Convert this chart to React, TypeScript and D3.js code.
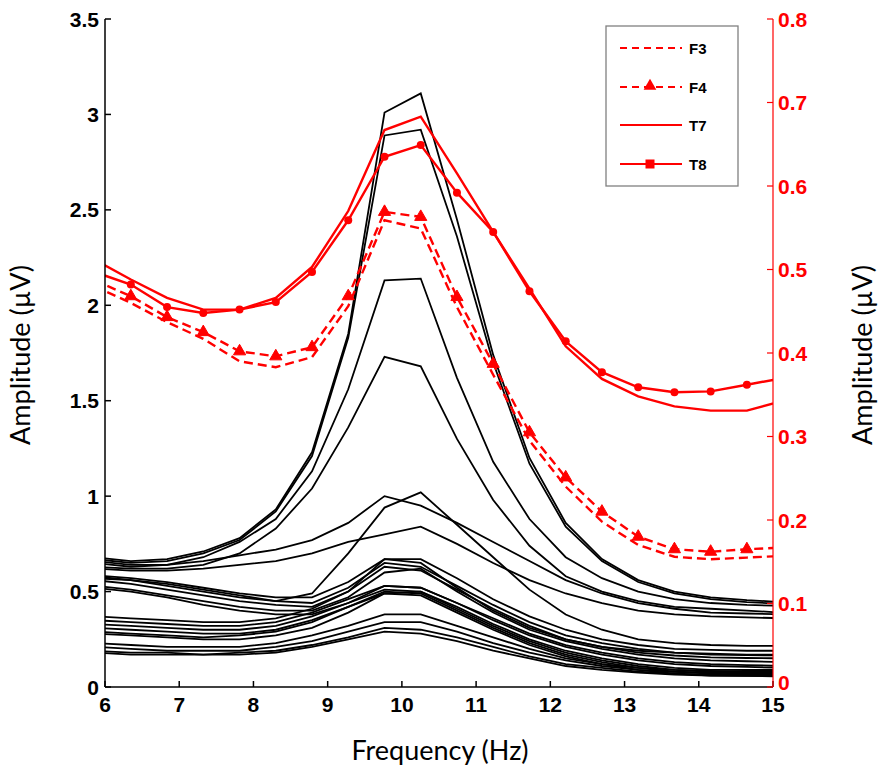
import React from "react";
import * as d3 from "d3";

const freqs = [5.859, 6.348, 6.836, 7.324, 7.813, 8.301, 8.789, 9.277, 9.766, 10.254, 10.742, 11.230, 11.719, 12.207, 12.695, 13.184, 13.672, 14.160, 14.648, 15.137];

// black channels (left axis, µV)
const blackSeries: number[][] = [
  [0.68,0.66,0.67,0.71,0.78,0.93,1.23,1.85,3.01,3.11,2.45,1.74,1.20,0.86,0.67,0.56,0.50,0.47,0.455,0.445],
  [0.67,0.65,0.66,0.70,0.77,0.92,1.21,1.83,2.89,2.92,2.36,1.70,1.17,0.84,0.66,0.55,0.49,0.46,0.445,0.435],
  [0.65,0.63,0.64,0.68,0.76,0.88,1.13,1.56,2.13,2.14,1.62,1.18,0.88,0.68,0.57,0.50,0.46,0.44,0.43,0.425],
  [0.63,0.62,0.62,0.64,0.70,0.83,1.04,1.36,1.73,1.68,1.30,0.98,0.74,0.58,0.50,0.45,0.42,0.41,0.40,0.39],
  [0.66,0.64,0.64,0.66,0.69,0.72,0.77,0.86,1.00,0.95,0.86,0.76,0.66,0.56,0.49,0.44,0.41,0.39,0.385,0.38],
  [0.62,0.61,0.61,0.62,0.64,0.66,0.70,0.76,0.80,0.84,0.75,0.65,0.56,0.49,0.44,0.40,0.38,0.37,0.365,0.36],
  [0.58,0.56,0.53,0.50,0.47,0.45,0.49,0.70,0.94,1.02,0.85,0.68,0.51,0.38,0.30,0.25,0.23,0.22,0.215,0.215],
  [0.585,0.57,0.55,0.52,0.49,0.47,0.47,0.55,0.67,0.67,0.57,0.46,0.37,0.30,0.25,0.22,0.20,0.195,0.19,0.19],
  [0.57,0.56,0.54,0.51,0.48,0.45,0.44,0.52,0.65,0.63,0.53,0.43,0.34,0.27,0.23,0.20,0.18,0.17,0.167,0.165],
  [0.56,0.54,0.51,0.48,0.45,0.43,0.42,0.50,0.63,0.61,0.51,0.41,0.32,0.25,0.21,0.18,0.165,0.155,0.152,0.15],
  [0.53,0.51,0.48,0.45,0.42,0.40,0.40,0.47,0.60,0.62,0.50,0.39,0.30,0.24,0.20,0.17,0.15,0.14,0.135,0.13],
  [0.52,0.50,0.47,0.43,0.40,0.38,0.38,0.44,0.53,0.52,0.44,0.36,0.28,0.22,0.18,0.15,0.13,0.12,0.115,0.11],
  [0.37,0.36,0.35,0.34,0.34,0.36,0.41,0.50,0.67,0.65,0.52,0.40,0.31,0.25,0.21,0.19,0.18,0.175,0.17,0.17],
  [0.35,0.34,0.33,0.32,0.32,0.34,0.39,0.46,0.53,0.52,0.44,0.35,0.27,0.21,0.17,0.14,0.12,0.11,0.105,0.10],
  [0.33,0.32,0.31,0.30,0.30,0.32,0.37,0.44,0.51,0.50,0.42,0.33,0.25,0.19,0.15,0.12,0.10,0.09,0.089,0.089],
  [0.31,0.30,0.29,0.28,0.28,0.30,0.35,0.42,0.49,0.50,0.41,0.32,0.24,0.18,0.14,0.11,0.09,0.08,0.075,0.073],
  [0.29,0.28,0.27,0.26,0.27,0.29,0.34,0.42,0.50,0.49,0.40,0.31,0.23,0.17,0.13,0.10,0.08,0.07,0.065,0.063],
  [0.28,0.27,0.26,0.25,0.25,0.27,0.31,0.39,0.49,0.48,0.39,0.30,0.22,0.16,0.12,0.09,0.07,0.06,0.058,0.058],
  [0.23,0.22,0.21,0.21,0.21,0.23,0.27,0.32,0.38,0.38,0.32,0.26,0.20,0.15,0.12,0.10,0.09,0.085,0.08,0.08],
  [0.21,0.20,0.19,0.19,0.19,0.21,0.24,0.29,0.34,0.34,0.29,0.23,0.18,0.14,0.11,0.09,0.08,0.075,0.07,0.07],
  [0.19,0.18,0.18,0.17,0.18,0.19,0.22,0.26,0.31,0.30,0.26,0.21,0.16,0.12,0.10,0.08,0.07,0.065,0.062,0.06],
  [0.18,0.17,0.17,0.17,0.17,0.18,0.21,0.25,0.29,0.28,0.24,0.19,0.15,0.11,0.09,0.075,0.065,0.06,0.058,0.055],
];

// red channels (right axis, µV)
const F3 = [0.480,0.460,0.437,0.417,0.390,0.383,0.395,0.456,0.559,0.549,0.455,0.374,0.295,0.240,0.198,0.170,0.156,0.153,0.155,0.157];
const F4 = [0.487,0.468,0.443,0.425,0.402,0.396,0.407,0.468,0.569,0.563,0.467,0.387,0.305,0.251,0.210,0.180,0.165,0.162,0.165,0.167];
const T7 = [0.512,0.488,0.466,0.452,0.452,0.466,0.503,0.570,0.667,0.683,0.615,0.545,0.477,0.408,0.369,0.348,0.336,0.331,0.331,0.343];
const T8 = [0.497,0.482,0.455,0.448,0.452,0.461,0.497,0.559,0.635,0.649,0.592,0.545,0.474,0.414,0.377,0.359,0.353,0.354,0.362,0.370];

const xTicks = [6, 7, 8, 9, 10, 11, 12, 13, 14, 15];
const yLeftTicks = [0, 0.5, 1, 1.5, 2, 2.5, 3, 3.5];
const yRightTicks = [0, 0.1, 0.2, 0.3, 0.4, 0.5, 0.6, 0.7, 0.8];
const legendNames = ["F3", "F4", "T7", "T8"];

const W = 892, H = 784;
const L = 105, R = 773, T = 19, B = 687;
const RED = "#ff0000";

export default function App() {
  const x = d3.scaleLinear().domain([6, 15]).range([L, R]);
  const yL = d3.scaleLinear().domain([0, 3.5]).range([B, T]);
  const yR = d3.scaleLinear().domain([0, 0.8]).range([B, T]);

  const lineL = d3.line<number>().x((_, i) => x(freqs[i])).y((d) => yL(d));
  const lineR = d3.line<number>().x((_, i) => x(freqs[i])).y((d) => yR(d));
  const tri = d3.symbol().type(d3.symbolTriangle).size(64)() as string;
  const triLeg = d3.symbol().type(d3.symbolTriangle).size(70)() as string;

  const tickFont = { fontFamily: "'Liberation Sans', Arial, sans-serif", fontWeight: 700 as const, fontSize: 21 };
  const titleFont = { fontFamily: "Lato, 'Open Sans', sans-serif", fontSize: 27 };

  const legY = [48, 87, 125, 164];

  return (
    <svg width={W} height={H} style={{ position: "absolute", left: 0, top: 0, background: "#fff" }}>
      <defs>
        <clipPath id="plotclip">
          <rect x={L} y={0} width={R - L} height={B} />
        </clipPath>
      </defs>
      <rect x={0} y={0} width={W} height={H} fill="#fff" />

      <g clipPath="url(#plotclip)">
        {blackSeries.map((s, i) => (
          <path key={i} d={lineL(s) || ""} fill="none" stroke="#000" strokeWidth={1.8} strokeLinejoin="miter" />
        ))}
        <path d={lineR(F3) || ""} fill="none" stroke={RED} strokeWidth={2.4} strokeDasharray="9,5" />
        <path d={lineR(F4) || ""} fill="none" stroke={RED} strokeWidth={2.4} strokeDasharray="9,5" />
        {F4.map((v, i) => (
          <path key={"f4" + i} d={tri} transform={`translate(${x(freqs[i])},${yR(v)})`} fill={RED} stroke={RED} strokeWidth={1} />
        ))}
        <path d={lineR(T7) || ""} fill="none" stroke={RED} strokeWidth={2.4} />
        <path d={lineR(T8) || ""} fill="none" stroke={RED} strokeWidth={2.4} />
        {T8.map((v, i) => (
          <circle key={"t8" + i} cx={x(freqs[i])} cy={yR(v)} r={4} fill={RED} />
        ))}
      </g>

      {/* left axis */}
      <line x1={L} x2={L} y1={T} y2={B} stroke="#000" strokeWidth={1.5} />
      {yLeftTicks.map((t) => (
        <g key={"yl" + t}>
          <line x1={L} x2={L + 6} y1={yL(t)} y2={yL(t)} stroke="#000" strokeWidth={1.5} />
          <text x={L - 6} y={yL(t)} textAnchor="end" dominantBaseline="central" {...tickFont}>{String(t)}</text>
        </g>
      ))}

      {/* bottom axis */}
      <line x1={L} x2={R} y1={B} y2={B} stroke="#000" strokeWidth={1.5} />
      {xTicks.map((t) => (
        <g key={"x" + t}>
          <line x1={x(t)} x2={x(t)} y1={B} y2={B - 6} stroke="#000" strokeWidth={1.5} />
          <text x={x(t)} y={B + 25} textAnchor="middle" {...tickFont}>{String(t)}</text>
        </g>
      ))}

      {/* right axis */}
      <line x1={R} x2={R} y1={T} y2={B} stroke={RED} strokeWidth={1.2} />
      {yRightTicks.map((t) => (
        <g key={"yr" + t}>
          <line x1={R} x2={R - 6} y1={yR(t)} y2={yR(t)} stroke={RED} strokeWidth={1.2} />
          <text x={R + 5} y={yR(t) - (t === 0 ? 5 : 0)} textAnchor="start" dominantBaseline="central" fill={RED} {...tickFont}>{d3.format("~g")(t)}</text>
        </g>
      ))}

      {/* titles */}
      <text transform={`translate(30,355) rotate(-90)`} textAnchor="middle" {...titleFont}>Amplitude (µV)</text>
      <text transform={`translate(872,355) rotate(-90)`} textAnchor="middle" {...titleFont}>Amplitude (µV)</text>
      <text x={440} y={760} textAnchor="middle" {...titleFont}>Frequency (Hz)</text>

      {/* legend */}
      <rect x={606} y={26} width={132} height={160} fill="#fff" stroke="#808080" strokeWidth={1.3} />
      {legendNames.map((n, i) => (
        <g key={n}>
          <line x1={620} x2={682} y1={legY[i]} y2={legY[i]} stroke={RED} strokeWidth={2}
            strokeDasharray={i < 2 ? "7,5" : undefined} />
          {i === 1 && <path d={triLeg} transform={`translate(650,${legY[i] - 1})`} fill={RED} />}
          {i === 3 && <rect x={645.5} y={legY[i] - 4.5} width={9} height={9} fill={RED} />}
          <text x={689} y={legY[i]} dominantBaseline="central" fontFamily="'Liberation Sans', Arial, sans-serif" fontWeight={700} fontSize={15}>{n}</text>
        </g>
      ))}
    </svg>
  );
}
